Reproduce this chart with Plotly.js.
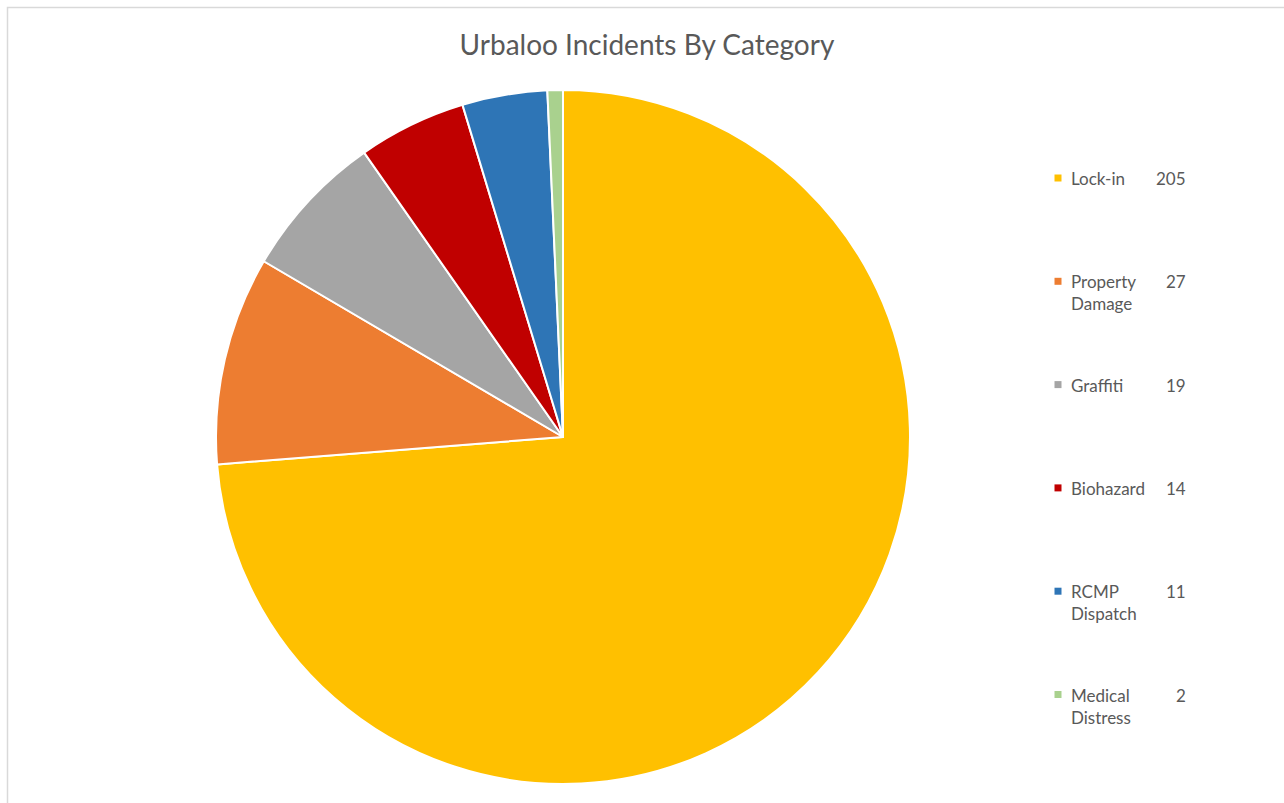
<!DOCTYPE html>
<html>
<head>
<meta charset="utf-8">
<script src="https://cdn.plot.ly/plotly-3.0.1.min.js"></script>
<style>html,body{margin:0;padding:0;background:#fff;}#chart{width:1284px;height:803px;}</style>
</head>
<body>
<div id="chart"></div>
<script>
const categories = ["Lock-in", "Property Damage", "Graffiti", "Biohazard", "RCMP Dispatch", "Medical Distress"];
const legendLabels = ["Lock-in", "Property<br>Damage", "Graffiti", "Biohazard", "RCMP<br>Dispatch", "Medical<br>Distress"];
const counts = [205, 27, 19, 14, 11, 2];
const colors = ["#FFC000", "#ED7D31", "#A5A5A5", "#C00000", "#2E75B6", "#A9D18E"];

const W = 1284, H = 803;
const cx = 563, cy = 437, r = 347;
const textColor = "#595959";
const fontFam = "Lato, 'Open Sans', sans-serif";

const trace = {
  type: "pie",
  labels: categories,
  values: counts,
  sort: false,
  direction: "clockwise",
  rotation: 0,
  marker: {colors: colors, line: {color: "#FFFFFF", width: 2}},
  textinfo: "none",
  hoverinfo: "label+value",
  showlegend: false,
  domain: {x: [(cx - r) / W, (cx + r) / W], y: [1 - (cy + r) / H, 1 - (cy - r) / H]}
};

const annotations = [];
const shapes = [];
const legTop = 178, legStep = 103.3, mkX = 1058, txX = 1069, valX = 1188;
const legSize = 17;
categories.forEach((c, i) => {
  const y = legTop + i * legStep;
  annotations.push({
    xref: "paper", yref: "paper", x: txX / W, y: 1 - (y - 12) / H,
    xanchor: "left", yanchor: "top", align: "left", showarrow: false,
    text: legendLabels[i], font: {family: fontFam, size: legSize, color: textColor}
  });
  annotations.push({
    xref: "paper", yref: "paper", x: valX / W, y: 1 - (y - 12) / H,
    xanchor: "right", yanchor: "top", align: "right", showarrow: false,
    text: String(counts[i]), font: {family: fontFam, size: legSize, color: textColor}
  });
  shapes.push({
    type: "rect", xref: "paper", yref: "paper",
    x0: (mkX - 3.5) / W, x1: (mkX + 3.5) / W,
    y0: 1 - (y + 3.5) / H, y1: 1 - (y - 3.5) / H,
    fillcolor: colors[i], line: {width: 0}
  });
});
shapes.push({
  type: "rect", xref: "paper", yref: "paper",
  x0: 7.5 / W, x1: 1.02, y0: -0.02, y1: 1 - 7.5 / H,
  line: {color: "#D9D9D9", width: 1.5}, fillcolor: "rgba(0,0,0,0)", layer: "below"
});

const layout = {
  width: W, height: H,
  margin: {l: 0, r: 0, t: 0, b: 0},
  paper_bgcolor: "#FFFFFF",
  title: {
    text: "Urbaloo Incidents By Category",
    x: 647 / W, xanchor: "center", y: 1 - 45 / H, yanchor: "middle",
    font: {family: fontFam, size: 28, color: textColor}
  },
  showlegend: false,
  annotations: annotations,
  shapes: shapes
};

Plotly.newPlot("chart", [trace], layout, {displayModeBar: false, staticPlot: true});
</script>
</body>
</html>
